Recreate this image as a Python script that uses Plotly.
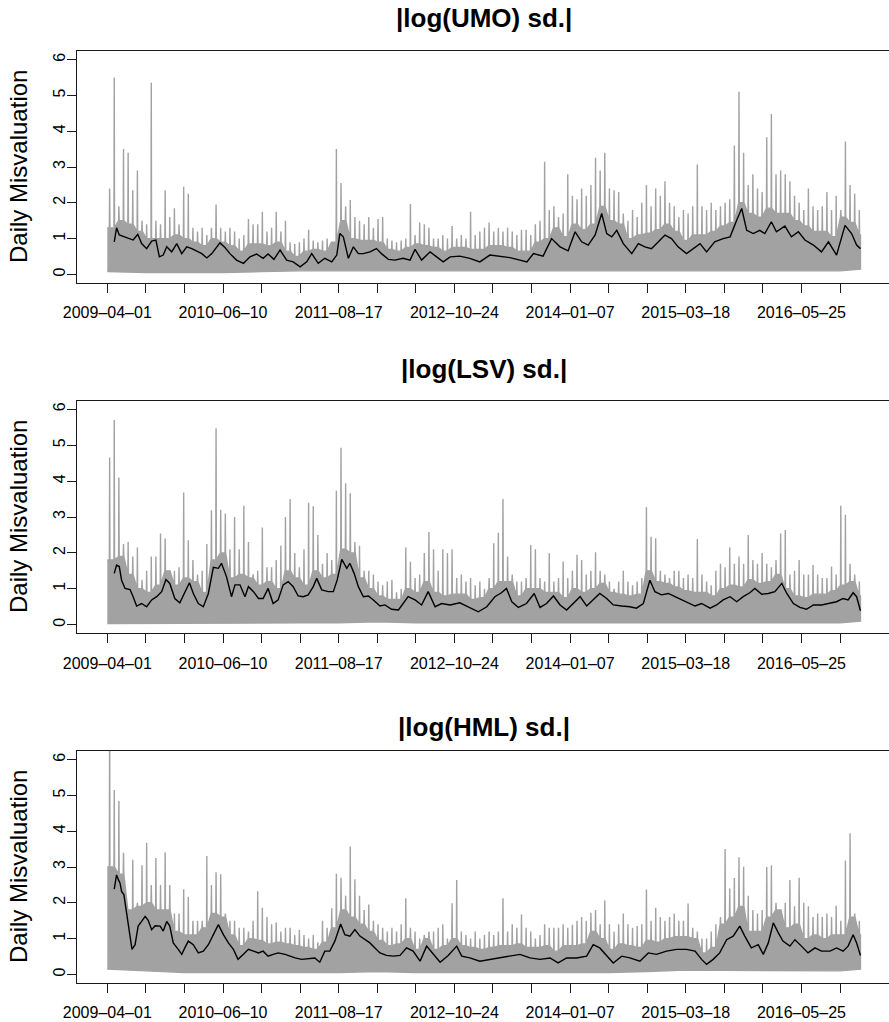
import plotly.graph_objects as go

# ---------------- data ----------------
N_OBS = 1953                      # number of daily observations (index 0..1953)
BIN = 12                          # observations per spike bin of the gray daily series
BAND_BINS = 2                     # one dense-band level per 2 spike bins (24 obs)
TICK_STEP = 100                   # axis tick every 100 observations
LABEL_STEP = 300                  # date label every 300 observations
date_labels = ["2009–04–01", "2010–06–10", "2011–08–17", "2012–10–24",
               "2014–01–07", "2015–03–18", "2016–05–25"]
low_idx = [0, 100, 200, 300, 400, 500, 600, 700, 800, 900, 1000, 1100, 1200,
           1300, 1400, 1500, 1600, 1700, 1800, 1900, 1953]

titles = ["|log(UMO) sd.|", "|log(LSV) sd.|", "|log(HML) sd.|"]

# --- UMO ---
umo_peaks = [2.4, 5.5, 1.9, 3.5, 3.4, 2.35, 2.9, 1.5, 1.4, 5.35,
             1.5, 1.4, 2.35, 1.6, 1.85, 1.4, 2.45, 2.25, 1.3, 1.2,
             1.3, 1.1, 1.3, 1.95, 1.3, 1.2, 1.3, 1.2, 1.0, 1.1,
             1.55, 1.4, 1.4, 1.75, 1.2, 1.3, 1.75, 1.2, 1.5, 0.9,
             0.85, 0.9, 1.0, 1.25, 0.95, 0.9, 0.95, 1.0, 0.9, 3.5,
             2.55, 1.9, 2.08, 1.6, 1.5, 1.4, 1.6, 1.3, 1.55, 1.6,
             1.0, 0.95, 0.9, 0.95, 1.0, 1.97, 1.1, 1.45, 1.4, 1.3,
             1.0, 1.0, 1.1, 1.0, 1.35, 1.0, 1.1, 1.0, 1.75, 1.1,
             1.2, 1.3, 1.45, 1.2, 1.3, 1.2, 1.3, 1.2, 1.1, 1.25,
             1.25, 1.1, 1.4, 1.5, 3.15, 1.8, 1.9, 1.6, 1.7, 2.8,
             2.2, 2.1, 2.4, 2.2, 2.5, 3.26, 2.9, 3.4, 2.4, 2.35,
             2.3, 1.7, 1.5, 1.8, 1.6, 2.0, 2.5, 1.9, 2.4, 2.2,
             2.6, 2.0, 1.9, 1.6, 1.8, 1.7, 1.9, 3.07, 1.9, 1.8,
             2.0, 1.8, 1.9, 2.0, 2.1, 3.6, 5.1, 3.4, 2.5, 2.8,
             2.4, 2.3, 3.83, 4.48, 2.8, 2.9, 2.8, 2.6, 2.2, 2.0,
             1.8, 2.4, 1.9, 1.8, 1.9, 2.3, 1.8, 2.2, 1.8, 3.71,
             2.5, 2.25, 1.8]
umo_band = [1.3, 1.5, 1.4, 1.2, 1.0, 1.0, 1.0, 1.1, 1.0, 0.9,
            0.8, 1.0, 0.9, 0.8, 0.65, 0.85, 0.85, 0.8, 0.9, 0.65,
            0.5, 0.65, 0.7, 0.65, 0.9, 1.5, 1.0, 0.95, 0.95, 0.9,
            0.7, 0.65, 0.75, 0.85, 0.8, 0.75, 0.65, 0.75, 0.75, 0.7,
            0.7, 0.8, 0.8, 0.75, 0.65, 0.65, 0.9, 1.0, 1.3, 1.05,
            1.4, 1.25, 1.4, 1.9, 1.5, 1.4, 1.0, 1.1, 1.15, 1.25,
            1.4, 1.2, 0.95, 1.1, 1.1, 1.2, 1.35, 1.45, 2.0, 1.7,
            1.6, 1.85, 1.7, 1.7, 1.5, 1.35, 1.2, 1.2, 1.05, 1.6,
            1.45, 1.1]
umo_lows = [0.08, 0.05, 0.05, 0.05, 0.08, 0.1, 0.1, 0.1, 0.1, 0.12, 0.12,
            0.12, 0.12, 0.1, 0.12, 0.1, 0.1, 0.1, 0.1, 0.1, 0.15]
umo_ma_idx = [18, 24, 31, 46, 59, 67, 79, 89, 102, 115, 126, 135, 145, 154, 167,
              180, 193, 206, 219, 232, 245, 258, 271, 292, 305, 318, 335, 353,
              370, 387, 404, 417, 432, 448, 465, 482, 500, 517, 530, 547, 564,
              582, 595, 603, 612, 625, 638, 651, 664, 681, 698, 711, 729, 746,
              767, 785, 798, 815, 837, 854, 871, 889, 914, 940, 966, 992, 1022,
              1044, 1070, 1088, 1105, 1130, 1152, 1174, 1195, 1213, 1230, 1247,
              1265, 1282, 1295, 1308, 1321, 1338, 1360, 1377, 1394, 1411, 1429,
              1446, 1463, 1480, 1502, 1520, 1537, 1554, 1575, 1597, 1615, 1632,
              1645, 1658, 1675, 1692, 1705, 1722, 1735, 1757, 1774, 1792, 1809,
              1831, 1852, 1870, 1891, 1913, 1930, 1943, 1953]
umo_ma_val = [0.91, 1.30, 1.10, 1.05, 1.00, 0.96, 1.12, 0.86, 0.72, 0.93, 0.96,
              0.49, 0.54, 0.77, 0.63, 0.86, 0.58, 0.77, 0.72, 0.66, 0.58, 0.46,
              0.58, 0.88, 0.75, 0.58, 0.40, 0.31, 0.49, 0.57, 0.45, 0.57, 0.42,
              0.68, 0.40, 0.35, 0.21, 0.35, 0.58, 0.31, 0.45, 0.35, 0.54, 1.14,
              1.05, 0.45, 0.77, 0.58, 0.58, 0.63, 0.72, 0.58, 0.42, 0.40, 0.45,
              0.40, 0.70, 0.40, 0.63, 0.49, 0.35, 0.49, 0.51, 0.45, 0.35, 0.54,
              0.49, 0.47, 0.40, 0.35, 0.58, 0.51, 1.00, 0.77, 0.66, 1.19, 0.91,
              0.82, 1.10, 1.70, 1.14, 1.05, 1.23, 0.86, 0.58, 0.86, 0.77, 0.72,
              0.91, 1.10, 1.00, 0.77, 0.58, 0.72, 0.86, 0.63, 0.91, 1.00, 1.05,
              1.51, 1.84, 1.23, 1.14, 1.23, 1.14, 1.47, 1.19, 1.35, 1.05, 1.19,
              0.96, 0.82, 0.63, 0.91, 0.54, 1.37, 1.14, 0.82, 0.72]

# --- LSV ---
lsv_peaks = [4.66, 5.7, 4.1, 2.25, 2.3, 1.9, 2.15, 1.25, 1.5, 1.9,
             1.9, 2.54, 2.4, 1.5, 1.5, 1.6, 3.68, 2.35, 1.8, 1.4,
             1.5, 2.25, 3.19, 5.47, 3.2, 3.1, 2.1, 3.0, 2.1, 3.31,
             2.3, 1.4, 1.5, 2.71, 1.6, 1.6, 1.8, 2.2, 3.0, 3.5,
             2.0, 1.6, 2.1, 3.4, 3.3, 2.5, 1.7, 2.0, 1.8, 3.73,
             4.93, 3.94, 3.66, 2.3, 2.2, 1.5, 1.5, 1.4, 1.2, 1.1,
             1.2, 1.25, 0.9, 1.0, 2.15, 1.75, 1.3, 1.4, 2.0, 2.58,
             2.1, 1.5, 2.1, 2.0, 2.1, 1.3, 1.4, 1.2, 1.3, 1.1,
             1.2, 1.0, 1.3, 2.27, 2.56, 3.5, 1.9, 1.4, 1.2, 1.2,
             1.3, 2.22, 2.1, 1.3, 1.2, 1.99, 1.2, 1.3, 1.76, 1.3,
             1.5, 1.95, 1.8, 1.4, 1.5, 2.02, 1.5, 1.4, 1.2, 1.0,
             1.2, 1.5, 1.2, 1.1, 1.2, 1.3, 3.27, 2.45, 2.41, 1.5,
             1.4, 1.3, 1.5, 1.5, 1.3, 1.4, 1.3, 2.39, 1.4, 1.2,
             1.1, 1.5, 1.7, 1.6, 2.15, 1.7, 1.9, 1.7, 2.5, 1.8,
             1.7, 2.0, 1.7, 1.6, 1.8, 2.54, 2.64, 1.4, 1.5, 1.8,
             1.4, 1.4, 1.66, 1.4, 1.3, 1.3, 1.62, 1.4, 3.31, 3.06,
             1.7, 1.4, 1.2]
lsv_band = [1.8, 1.9, 1.4, 1.0, 0.9, 1.1, 1.5, 1.1, 1.3, 1.2,
            0.9, 1.8, 2.0, 1.3, 1.4, 1.3, 1.1, 1.2, 1.0, 1.5,
            1.3, 1.1, 1.5, 1.3, 1.4, 2.1, 2.0, 1.3, 1.0, 0.8,
            0.7, 0.7, 1.0, 0.9, 1.2, 0.9, 0.8, 0.85, 0.85, 0.7,
            0.75, 1.0, 1.2, 1.2, 0.8, 1.0, 1.0, 0.9, 0.9, 0.75,
            1.0, 0.9, 1.0, 1.15, 0.9, 0.85, 0.8, 0.85, 1.5, 1.2,
            1.15, 1.05, 0.95, 0.9, 0.9, 0.8, 1.0, 1.1, 1.05, 1.25,
            1.15, 1.2, 1.4, 1.0, 0.8, 0.75, 0.85, 0.85, 0.95, 1.1,
            1.2, 0.8]
lsv_lows = [0.03, 0.05, 0.05, 0.05, 0.05, 0.05, 0.05, 0.08, 0.05, 0.05, 0.05,
            0.05, 0.05, 0.05, 0.05, 0.05, 0.05, 0.05, 0.05, 0.05, 0.1]
lsv_ma_idx = [18, 24, 31, 37, 46, 59, 67, 76, 89, 102, 115, 128, 141, 152, 162,
              175, 188, 201, 213, 223, 236, 249, 262, 275, 288, 296, 309, 322,
              331, 344, 357, 366, 379, 392, 404, 417, 430, 443, 456, 469, 482,
              495, 508, 521, 534, 543, 556, 573, 586, 596, 608, 621, 629, 640,
              651, 664, 677, 690, 707, 720, 737, 755, 767, 780, 798, 815, 832,
              850, 867, 889, 914, 940, 962, 984, 1005, 1022, 1035, 1049, 1066,
              1087, 1107, 1122, 1139, 1157, 1174, 1191, 1208, 1226, 1243, 1260,
              1277, 1295, 1312, 1334, 1355, 1372, 1390, 1407, 1420, 1437, 1455,
              1472, 1489, 1507, 1524, 1541, 1563, 1580, 1597, 1615, 1632, 1649,
              1666, 1679, 1697, 1714, 1731, 1749, 1762, 1779, 1796, 1813, 1831,
              1852, 1874, 1891, 1908, 1921, 1934, 1943, 1953]
lsv_ma_val = [1.43, 1.66, 1.62, 1.24, 1.01, 0.98, 0.78, 0.52, 0.59, 0.50, 0.69,
              0.78, 0.92, 1.26, 1.15, 0.73, 0.61, 0.89, 1.17, 0.87, 0.59, 0.50,
              0.87, 1.60, 1.57, 1.71, 1.34, 0.78, 1.11, 1.11, 0.78, 1.06, 0.92,
              0.73, 0.73, 1.01, 0.59, 0.69, 1.11, 1.20, 1.06, 0.80, 0.78, 0.83,
              1.06, 1.29, 0.97, 0.92, 0.92, 1.24, 1.82, 1.57, 1.71, 1.43, 1.06,
              0.78, 0.80, 0.69, 0.52, 0.55, 0.43, 0.41, 0.59, 0.78, 0.69, 0.55,
              0.92, 0.50, 0.59, 0.55, 0.61, 0.48, 0.36, 0.50, 0.78, 0.89, 1.01,
              0.64, 0.48, 0.59, 0.87, 0.48, 0.59, 0.80, 0.55, 0.41, 0.59, 0.78,
              0.52, 0.69, 0.87, 0.73, 0.55, 0.52, 0.50, 0.46, 0.59, 1.24, 0.92,
              0.83, 0.87, 0.78, 0.69, 0.59, 0.52, 0.59, 0.46, 0.55, 0.69, 0.78,
              0.64, 0.78, 0.89, 1.01, 0.85, 0.87, 0.92, 1.15, 0.87, 0.59, 0.48,
              0.43, 0.55, 0.55, 0.61, 0.64, 0.73, 0.69, 0.89, 0.78, 0.39]

# --- HML ---
hml_peaks = [7.5, 5.15, 4.84, 3.4, 1.6, 3.2, 2.0, 3.05, 3.68, 2.5,
             3.25, 2.5, 3.41, 2.5, 1.7, 1.7, 2.38, 2.16, 1.5, 1.5,
             1.5, 3.31, 2.5, 2.85, 2.8, 1.7, 1.5, 1.5, 1.3, 1.3,
             1.2, 1.5, 2.32, 1.86, 1.6, 1.4, 1.45, 1.2, 1.3, 1.3,
             1.1, 1.25, 1.1, 1.0, 1.1, 0.9, 1.5, 1.3, 1.85, 2.81,
             2.7, 2.2, 3.57, 2.66, 2.2, 1.8, 1.95, 1.5, 1.4, 1.3,
             1.2, 1.3, 1.2, 1.4, 2.13, 1.3, 1.2, 1.0, 1.1, 1.2,
             1.2, 1.3, 1.4, 1.0, 1.99, 2.64, 1.2, 1.1, 1.0, 1.2,
             1.0, 1.1, 1.2, 1.1, 1.2, 2.13, 1.2, 1.4, 1.3, 1.67,
             1.3, 1.2, 1.0, 1.1, 1.4, 1.3, 1.3, 1.3, 1.4, 1.3,
             1.39, 1.5, 1.6, 1.5, 1.72, 1.8, 1.4, 2.07, 1.4, 1.2,
             1.4, 1.7, 1.4, 1.3, 1.35, 1.4, 2.37, 1.5, 1.86, 1.6,
             1.5, 1.6, 1.7, 1.5, 1.5, 1.98, 1.3, 1.2, 1.0, 1.0,
             1.2, 1.4, 1.6, 3.5, 2.4, 2.69, 3.27, 3.01, 2.2, 1.8,
             1.7, 1.8, 3.0, 3.05, 2.0, 1.8, 2.0, 2.64, 1.9, 2.7,
             2.0, 1.9, 1.6, 1.7, 1.6, 1.7, 1.6, 1.92, 1.5, 3.18,
             3.94, 1.7, 1.5]
hml_band = [3.0, 2.8, 1.8, 1.9, 2.0, 1.8, 1.8, 1.2, 1.1, 1.1,
            1.3, 1.7, 1.6, 1.1, 0.8, 1.0, 0.95, 0.85, 0.9, 0.85,
            0.8, 0.75, 0.7, 0.9, 1.3, 1.8, 1.6, 1.4, 1.2, 0.95,
            0.8, 0.85, 1.0, 0.7, 1.0, 0.7, 0.8, 1.0, 0.8, 0.75,
            0.7, 0.75, 0.8, 0.8, 0.85, 0.75, 0.75, 0.8, 0.65, 0.8,
            0.8, 0.85, 1.2, 1.0, 0.7, 0.85, 0.8, 0.75, 0.95, 0.9,
            1.0, 1.05, 1.05, 1.0, 0.6, 0.75, 1.4, 1.6, 1.9, 1.2,
            1.2, 1.6, 1.8, 1.3, 1.4, 1.0, 1.1, 1.0, 1.1, 1.1,
            1.6, 1.1]
hml_lows = [0.15, 0.1, 0.05, 0.05, 0.05, 0.05, 0.05, 0.08, 0.05, 0.05, 0.05,
            0.05, 0.05, 0.05, 0.08, 0.12, 0.1, 0.1, 0.1, 0.1, 0.15]
hml_ma_idx = [18, 24, 29, 33, 37, 43, 50, 57, 64, 72, 80, 89, 98, 106, 115, 124,
              137, 145, 154, 162, 171, 184, 193, 201, 210, 223, 236, 249, 262,
              275, 288, 301, 314, 327, 339, 353, 366, 379, 392, 404, 417, 430,
              443, 461, 474, 487, 504, 521, 538, 551, 564, 577, 590, 605, 616,
              629, 642, 655, 668, 681, 694, 707, 724, 742, 759, 776, 793, 811,
              828, 845, 863, 884, 906, 919, 940, 966, 992, 1018, 1044, 1070,
              1096, 1122, 1148, 1169, 1191, 1217, 1243, 1260, 1277, 1295, 1312,
              1334, 1355, 1381, 1403, 1424, 1450, 1476, 1502, 1524, 1541, 1554,
              1571, 1588, 1606, 1623, 1640, 1653, 1670, 1688, 1701, 1714, 1727,
              1740, 1752, 1770, 1783, 1800, 1817, 1835, 1852, 1874, 1891, 1908,
              1921, 1934, 1943, 1953]
hml_ma_val = [2.38, 2.78, 2.64, 2.55, 2.32, 2.23, 1.72, 1.16, 0.70, 0.83, 1.35,
              1.48, 1.62, 1.51, 1.25, 1.36, 1.35, 1.21, 1.48, 1.35, 0.88, 0.70,
              0.56, 0.74, 0.93, 0.83, 0.60, 0.65, 0.83, 1.11, 1.39, 1.11, 0.88,
              0.70, 0.42, 0.56, 0.70, 0.65, 0.60, 0.65, 0.51, 0.56, 0.60, 0.56,
              0.51, 0.46, 0.42, 0.44, 0.46, 0.34, 0.65, 0.65, 0.93, 1.41, 1.11,
              1.07, 1.25, 1.07, 0.97, 0.88, 0.74, 0.60, 0.53, 0.51, 0.53, 0.74,
              0.65, 0.37, 0.79, 0.56, 0.34, 0.53, 0.79, 0.51, 0.46, 0.37, 0.42,
              0.46, 0.51, 0.56, 0.46, 0.42, 0.46, 0.32, 0.46, 0.46, 0.51, 0.83,
              0.74, 0.51, 0.32, 0.51, 0.46, 0.37, 0.60, 0.56, 0.65, 0.70, 0.70,
              0.65, 0.42, 0.28, 0.42, 0.60, 0.97, 1.07, 1.35, 1.07, 0.74, 0.83,
              0.56, 0.88, 1.44, 1.16, 0.93, 0.79, 0.97, 0.79, 0.60, 0.74, 0.65,
              0.65, 0.74, 0.65, 0.79, 1.11, 0.88, 0.53]

panels = [
    (titles[0], umo_peaks, umo_band, umo_lows, umo_ma_idx, umo_ma_val),
    (titles[1], lsv_peaks, lsv_band, lsv_lows, lsv_ma_idx, lsv_ma_val),
    (titles[2], hml_peaks, hml_band, hml_lows, hml_ma_idx, hml_ma_val),
]

# ---------------- styling / layout ----------------
W, H = 889, 1022
PLOT_L = 77
GRAY = "#a2a2a2"
AXC = "#1a1a1a"
FONT = "Liberation Sans, Arial, Helvetica, sans-serif"
SPIKE_HALF = 0.8                  # half base width of a spike, in observations
boxes = [(51, 283), (400.7, 633.3), (751, 983)]   # pixel (top, bottom) of each panel
title_y = [18, 369, 727]

tickvals = list(range(0, 1901, TICK_STEP))
ticktext = [date_labels[v // LABEL_STEP] if v % LABEL_STEP == 0 else "" for v in tickvals]

fig = go.Figure()
layout = dict(width=W, height=H, margin=dict(l=PLOT_L, r=0, t=0, b=0),
              paper_bgcolor="white", plot_bgcolor="white", showlegend=False,
              font=dict(family=FONT, color="black"))
annotations = []

for p, (title, peaks, band, lows, ma_i, ma_v) in enumerate(panels):
    sfx = "" if p == 0 else str(p + 1)
    xa, ya = "x" + sfx, "y" + sfx
    # daily values: dense band (band levels) with one spike per bin, down to the lows
    px_, py_ = [0], [band[0]]
    for k, pk in enumerate(peaks):
        c = BIN * k + BIN // 2
        base = band[min(k // BAND_BINS, len(band) - 1)]
        px_ += [c - SPIKE_HALF, c, c + SPIKE_HALF]
        py_ += [base, pk, base]
    px_ += [N_OBS] + low_idx[::-1]
    py_ += [band[-1]] + lows[::-1]
    fig.add_trace(go.Scatter(x=px_, y=py_, mode="lines", fill="toself", fillcolor=GRAY,
                             line=dict(color=GRAY, width=1.4),
                             hoverinfo="skip", xaxis=xa, yaxis=ya))
    # moving average
    fig.add_trace(go.Scatter(x=ma_i, y=ma_v, mode="lines",
                             line=dict(color="black", width=1.4),
                             xaxis=xa, yaxis=ya))

    top, bot = boxes[p]
    dom = [1 - bot / H, 1 - top / H]
    layout["xaxis" + sfx] = dict(domain=[0, 1], range=[-78.6, 2027], anchor=ya,
                                 tickmode="array", tickvals=tickvals, ticktext=ticktext,
                                 ticks="outside", ticklen=9, tickwidth=1, tickcolor=AXC,
                                 showline=True, linecolor=AXC, linewidth=1, mirror=True,
                                 showgrid=False, zeroline=False,
                                 tickfont=dict(size=16, family=FONT, color="black"),
                                 ticklabelstandoff=6)
    layout["yaxis" + sfx] = dict(domain=dom, range=[-0.24, 6.24], anchor=xa,
                                 tickmode="array", tickvals=[0, 1, 2, 3, 4, 5, 6],
                                 tickangle=-90, ticks="outside", ticklen=9, tickwidth=1,
                                 tickcolor=AXC, showline=True, linecolor=AXC, linewidth=1,
                                 mirror=False, showgrid=False, zeroline=False,
                                 tickfont=dict(size=16, family=FONT, color="black"),
                                 ticklabelstandoff=-4)
    plot_w = W - PLOT_L
    annotations.append(dict(text="<b>" + title + "</b>", xref="paper", yref="paper",
                            x=(484 - PLOT_L) / plot_w, y=1 - title_y[p] / H,
                            xanchor="center", yanchor="middle", showarrow=False,
                            font=dict(size=26, family=FONT, color="black")))
    annotations.append(dict(text="Daily Misvaluation", xref="paper", yref="paper",
                            x=(18 - PLOT_L) / plot_w, y=1 - (top + bot) / 2 / H,
                            xanchor="center", yanchor="middle", textangle=-90,
                            showarrow=False, font=dict(size=24, family=FONT, color="black")))

layout["annotations"] = annotations
fig.update_layout(**layout)
fig.write_html("out.html", config={"displayModeBar": False},
               post_script="document.body.style.margin='0';")
